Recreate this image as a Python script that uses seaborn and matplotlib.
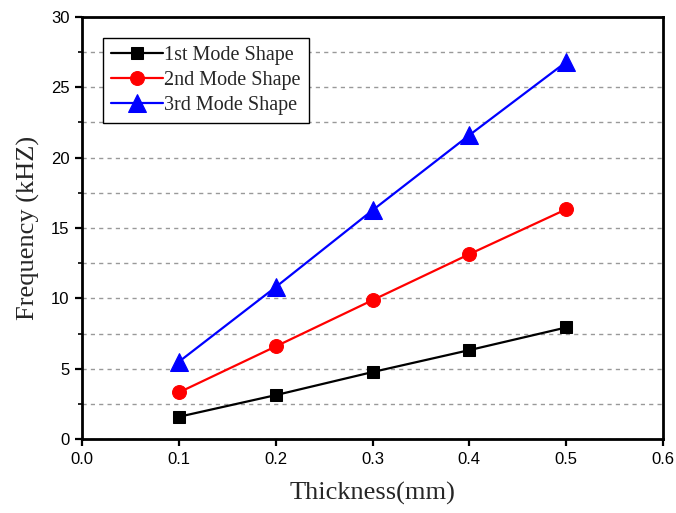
import matplotlib
matplotlib.use("Agg")
import matplotlib.pyplot as plt
import seaborn as sns
import pandas as pd
from matplotlib.ticker import MultipleLocator, FormatStrFormatter

thickness = [0.1, 0.2, 0.3, 0.4, 0.5]
mode1 = [1.58, 3.12, 4.76, 6.32, 7.93]
mode2 = [3.31, 6.58, 9.87, 13.14, 16.33]
mode3 = [5.49, 10.8, 16.26, 21.6, 26.8]
series_names = ["1st Mode Shape", "2nd Mode Shape", "3rd Mode Shape"]
colors = ["black", "red", "blue"]
markers = ["s", "o", "^"]
msizes = [9, 10, 13]

sns.set_theme(style="white")
plt.rcParams['font.family'] = ['Liberation Sans', 'DejaVu Sans']

df = pd.DataFrame({
    "Thickness": thickness * 3,
    "Frequency": mode1 + mode2 + mode3,
    "Series": sum([[n] * len(thickness) for n in series_names], []),
})

fig = plt.figure(figsize=(6.76, 5.13), dpi=100)
ax = fig.add_axes([0.1213, 0.1442, 0.8595, 0.8227])

for name, c, m, ms in zip(series_names, colors, markers, msizes):
    sub = df[df["Series"] == name]
    sns.lineplot(data=sub, x="Thickness", y="Frequency", ax=ax, color=c,
                 marker=m, markersize=ms, markeredgecolor=c, linewidth=1.6,
                 label=name, zorder=3)

ax.set_xlim(0, 0.6)
ax.set_ylim(0, 30)
ax.xaxis.set_major_locator(MultipleLocator(0.1))
ax.yaxis.set_major_locator(MultipleLocator(5))
ax.yaxis.set_minor_locator(MultipleLocator(2.5))
ax.xaxis.set_major_formatter(FormatStrFormatter('%.1f'))
ax.yaxis.set_major_formatter(FormatStrFormatter('%d'))

ax.grid(False)
ax.yaxis.grid(True, which="both", linestyle=(0, (3, 3)), color="#999999", linewidth=1.0)
ax.set_axisbelow(True)

for s in ax.spines.values():
    s.set_color("black")
    s.set_linewidth(2.0)

ax.tick_params(axis="both", which="major", direction="out", length=5, width=1.6,
               labelsize=12, colors="black", left=True, bottom=True, pad=4)
ax.tick_params(axis="y", which="minor", direction="out", length=3, width=1.4, left=True)

ax.set_xlabel("Thickness(mm)", fontsize=19, family=["Liberation Serif"], labelpad=11)
ax.set_ylabel("Frequency (kHZ)", fontsize=19, family=["Liberation Serif"], labelpad=8)

leg = ax.legend(loc="upper left", bbox_to_anchor=(0.036, 0.95), frameon=True,
                fancybox=False, edgecolor="black", framealpha=1,
                prop={"family": "Liberation Serif", "size": 14.5},
                handlelength=2.6, handletextpad=0.05, borderpad=0.4, labelspacing=0.28,
                borderaxespad=0)
leg.get_frame().set_linewidth(1.0)

fig.savefig("out.png", dpi=100)
